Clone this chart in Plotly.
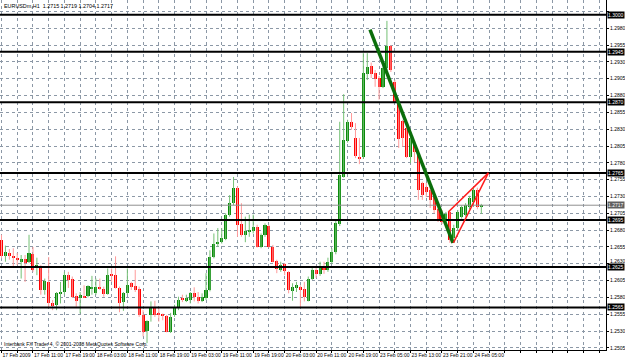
import plotly.graph_objects as go

time_labels = ["17 Feb 2009", "17 Feb 11:00", "17 Feb 19:00", "18 Feb 03:00", "18 Feb 11:00",
               "18 Feb 19:00", "19 Feb 03:00", "19 Feb 11:00", "19 Feb 19:00", "20 Feb 03:00",
               "20 Feb 11:00", "20 Feb 19:00", "23 Feb 05:00", "23 Feb 13:00", "23 Feb 21:00",
               "24 Feb 05:00"]

opens = [1.2665, 1.2642, 1.2646, 1.2642, 1.2638, 1.2633, 1.2637, 1.2632, 1.2644, 1.2624,
         1.2626, 1.2591, 1.2603, 1.2572, 1.2569, 1.2586, 1.2588, 1.2614, 1.2608, 1.2582,
         1.2579, 1.2582, 1.2582, 1.2592, 1.2586, 1.2596, 1.2592, 1.2585, 1.2614, 1.2613,
         1.2594, 1.2573, 1.2586, 1.2601, 1.2597, 1.2593, 1.2554, 1.2530, 1.2554, 1.2564,
         1.2556, 1.2555, 1.2553, 1.2529, 1.2554, 1.2564, 1.2579, 1.2574, 1.2576, 1.2587,
         1.2581, 1.2575, 1.2579, 1.2591, 1.2640, 1.2659, 1.2663, 1.2667, 1.2703, 1.2721,
         1.2743, 1.2689, 1.2672, 1.2678, 1.2679, 1.2685, 1.2655, 1.2672, 1.2686, 1.2655,
         1.2634, 1.2621, 1.2629, 1.2618, 1.2589, 1.2594, 1.2596, 1.2593, 1.2575, 1.2608,
         1.2621, 1.2615, 1.2627, 1.2621, 1.2633, 1.2647, 1.2689, 1.2759, 1.2813, 1.2841,
         1.2817, 1.2789, 1.2789, 1.2912, 1.2924, 1.2914, 1.2906, 1.2893, 1.2921, 1.2954,
         1.2900, 1.2871, 1.2842, 1.2832, 1.2789, 1.2807, 1.2792, 1.2750, 1.2744, 1.2740,
         1.2729, 1.2711, 1.2703, 1.2695, 1.2707, 1.2668, 1.2683, 1.2700, 1.2703, 1.2714,
         1.2722, 1.2740, 1.2715]
highs = [1.2673, 1.2657, 1.2652, 1.2653, 1.2646, 1.2643, 1.2643, 1.2673, 1.2655, 1.2639,
         1.2628, 1.2608, 1.2640, 1.2576, 1.2588, 1.2603, 1.2618, 1.2618, 1.2611, 1.2586,
         1.2588, 1.2598, 1.2598, 1.2612, 1.2608, 1.2608, 1.2596, 1.2623, 1.2623, 1.2641,
         1.2596, 1.2588, 1.2623, 1.2603, 1.2621, 1.2596, 1.2561, 1.2546, 1.2574, 1.2575,
         1.2564, 1.2556, 1.2554, 1.2557, 1.2569, 1.2581, 1.2584, 1.2584, 1.2588, 1.2595,
         1.2588, 1.2586, 1.2616, 1.2650, 1.2675, 1.2683, 1.2683, 1.2705, 1.2732, 1.2759,
         1.2745, 1.2720, 1.2700, 1.2703, 1.2703, 1.2688, 1.2675, 1.2690, 1.2688, 1.2658,
         1.2636, 1.2633, 1.2631, 1.2619, 1.2601, 1.2603, 1.2598, 1.2603, 1.2611, 1.2626,
         1.2627, 1.2633, 1.2633, 1.2639, 1.2653, 1.2695, 1.2841, 1.2882, 1.2844, 1.2854,
         1.2839, 1.2817, 1.2943, 1.2943, 1.2929, 1.2918, 1.2909, 1.2926, 1.2991, 1.2955,
         1.2903, 1.2872, 1.2844, 1.2833, 1.2820, 1.2810, 1.2795, 1.2752, 1.2750, 1.2747,
         1.2732, 1.2716, 1.2710, 1.2707, 1.2708, 1.2688, 1.2710, 1.2717, 1.2720, 1.2731,
         1.2743, 1.2743, 1.2719]
lows = [1.2638, 1.2633, 1.2636, 1.2626, 1.2628, 1.2608, 1.2603, 1.2631, 1.2618, 1.2613,
        1.2584, 1.2584, 1.2566, 1.2561, 1.2561, 1.2571, 1.2584, 1.2594, 1.2579, 1.2566,
        1.2556, 1.2579, 1.2580, 1.2584, 1.2584, 1.2591, 1.2581, 1.2584, 1.2603, 1.2593,
        1.2558, 1.2560, 1.2584, 1.2591, 1.2588, 1.2551, 1.2522, 1.2512, 1.2544, 1.2551,
        1.2544, 1.2546, 1.2528, 1.2527, 1.2551, 1.2561, 1.2573, 1.2573, 1.2571, 1.2574,
        1.2571, 1.2573, 1.2576, 1.2589, 1.2638, 1.2655, 1.2660, 1.2665, 1.2700, 1.2717,
        1.2670, 1.2670, 1.2662, 1.2670, 1.2675, 1.2654, 1.2653, 1.2670, 1.2654, 1.2632,
        1.2616, 1.2618, 1.2613, 1.2586, 1.2575, 1.2588, 1.2565, 1.2574, 1.2574, 1.2606,
        1.2609, 1.2612, 1.2615, 1.2618, 1.2630, 1.2644, 1.2686, 1.2758, 1.2810, 1.2829,
        1.2787, 1.2778, 1.2786, 1.2903, 1.2906, 1.2893, 1.2874, 1.2891, 1.2918, 1.2915,
        1.2869, 1.2802, 1.2804, 1.2787, 1.2780, 1.2781, 1.2725, 1.2725, 1.2729, 1.2713,
        1.2705, 1.2692, 1.2689, 1.2691, 1.2661, 1.2661, 1.2680, 1.2697, 1.2700, 1.2711,
        1.2717, 1.2711, 1.2704]
closes = [1.2642, 1.2648, 1.2642, 1.2638, 1.2635, 1.2637, 1.2631, 1.2646, 1.2621, 1.2628,
          1.2591, 1.2604, 1.2571, 1.2567, 1.2586, 1.2588, 1.2614, 1.2606, 1.2580, 1.2574,
          1.2584, 1.2580, 1.2597, 1.2596, 1.2596, 1.2592, 1.2585, 1.2614, 1.2612, 1.2594,
          1.2571, 1.2586, 1.2599, 1.2596, 1.2591, 1.2554, 1.2529, 1.2545, 1.2565, 1.2554,
          1.2554, 1.2552, 1.2529, 1.2551, 1.2564, 1.2576, 1.2577, 1.2579, 1.2586, 1.2581,
          1.2574, 1.2581, 1.2591, 1.2640, 1.2659, 1.2663, 1.2668, 1.2703, 1.2721, 1.2743,
          1.2688, 1.2672, 1.2678, 1.2680, 1.2685, 1.2655, 1.2673, 1.2688, 1.2655, 1.2633,
          1.2622, 1.2628, 1.2619, 1.2591, 1.2596, 1.2598, 1.2591, 1.2581, 1.2608, 1.2621,
          1.2615, 1.2627, 1.2621, 1.2633, 1.2647, 1.2691, 1.2762, 1.2814, 1.2841, 1.2833,
          1.2790, 1.2786, 1.2914, 1.2923, 1.2912, 1.2905, 1.2893, 1.2921, 1.2954, 1.2918,
          1.2871, 1.2816, 1.2817, 1.2789, 1.2817, 1.2796, 1.2740, 1.2732, 1.2737, 1.2725,
          1.2710, 1.2695, 1.2692, 1.2704, 1.2665, 1.2683, 1.2707, 1.2714, 1.2717, 1.2728,
          1.2740, 1.2714, 1.2717]

level_prices = [1.3000, 1.2945, 1.2870, 1.2765, 1.2695, 1.2625, 1.2565]
bid_price = 1.2717
price_ticks = [round(1.2505 + 0.0025 * k, 4) for k in range(21)]

trend_x = [93.7, 114.8]
trend_y = [1.2978, 1.2661]
wedge_x = [113.6, 123.8, 114.9]
wedge_y = [1.2707, 1.2765, 1.2661]

title_text = "EURUSDm,H1  1.2715 1.2719 1.2704 1.2717"
credit_text = "Interbank FX Trader 4, \u00a9 2001-2008 MetaQuotes Software Corp."

UP = "#0a8a0a"
DN = "#ff0000"
UP_W = "#74c074"
DN_W = "#ff9a9a"
GRID = "#8c98a6"
FONT = "Liberation Sans"

n = len(opens)
idx = list(range(n))
up = [closes[i] >= opens[i] for i in idx]

fig = go.Figure()

# wicks
for flag, col in ((True, UP_W), (False, DN_W)):
    wx, wy = [], []
    for i in idx:
        if up[i] == flag:
            wx += [i, i, None]
            wy += [lows[i], highs[i], None]
    fig.add_trace(go.Scatter(x=wx, y=wy, mode="lines", line=dict(color=col, width=1),
                             hoverinfo="skip", showlegend=False))

# bodies
base = [min(opens[i], closes[i]) for i in idx]
height = [max(abs(closes[i] - opens[i]), 0.00009) for i in idx]
fig.add_trace(go.Bar(x=idx, y=height, base=base, width=0.78,
                     marker=dict(color=[UP if u else DN for u in up], line=dict(width=0)),
                     showlegend=False, hoverinfo="skip"))

shapes = []
for p in level_prices:
    shapes.append(dict(type="line", xref="paper", x0=0, x1=1, yref="y", y0=p, y1=p,
                       line=dict(color="black", width=2), layer="above"))
shapes.append(dict(type="line", xref="paper", x0=0, x1=1, yref="y", y0=bid_price, y1=bid_price,
                   line=dict(color="#909090", width=1), layer="above"))
shapes.append(dict(type="line", xref="x", yref="y", x0=trend_x[0], y0=trend_y[0],
                   x1=trend_x[1], y1=trend_y[1], line=dict(color="#0b6e0b", width=3.5), layer="above"))
for a, b in ((0, 1), (2, 1)):
    shapes.append(dict(type="line", xref="x", yref="y", x0=wedge_x[a], y0=wedge_y[a],
                       x1=wedge_x[b], y1=wedge_y[b], line=dict(color="#ff1a1a", width=1.5), layer="above"))

# price labels: level boxes cover some of them; those nudged clear are drawn as annotations
covered = {1.3005}
nudged = {1.2630: 3}
price_text = ["" if (v in covered or v in nudged) else f"{v:.4f}" for v in price_ticks]

annotations = []
for v, dy in nudged.items():
    annotations.append(dict(xref="paper", x=1, xanchor="left", xshift=3, yref="y", y=v, yshift=dy,
                            text=f"{v:.4f}", showarrow=False, borderpad=0,
                            font=dict(color="black", size=5, family=FONT)))
for p in level_prices:
    annotations.append(dict(xref="paper", x=1, xanchor="left", xshift=1, yref="y", y=p,
                            text=f"{p:.4f}", showarrow=False, bgcolor="black", borderpad=0,
                            font=dict(color="white", size=5, family=FONT)))
annotations.append(dict(xref="paper", x=1, xanchor="left", xshift=1, yref="y", y=bid_price,
                        text=f"{bid_price:.4f}", showarrow=False, bgcolor="#606060", borderpad=0,
                        font=dict(color="white", size=5, family=FONT)))
annotations.append(dict(xref="paper", yref="paper", x=0, y=1, xanchor="left", yanchor="top",
                        xshift=2, yshift=-1, text=title_text, showarrow=False,
                        font=dict(size=5.4, color="black", family=FONT)))
annotations.append(dict(xref="paper", yref="paper", x=0, y=0, xanchor="left", yanchor="bottom",
                        xshift=2, yshift=1, text=credit_text, showarrow=False,
                        font=dict(size=5, color="black", family=FONT)))

grid_x = list(range(0, 153, 4))
grid_text = [time_labels[g // 8] if g % 8 == 0 and g // 8 < len(time_labels) else "" for g in grid_x]

fig.update_layout(
    width=625, height=360,
    margin=dict(l=0, r=19, t=0, b=10, autoexpand=False),
    paper_bgcolor="white", plot_bgcolor="white",
    bargap=0, shapes=shapes, annotations=annotations,
    xaxis=dict(range=[-0.38, 153.7], tickmode="array", tickvals=grid_x, ticktext=grid_text,
               showgrid=True, gridcolor=GRID, griddash="dot", gridwidth=1,
               showline=True, linecolor="black", linewidth=1,
               ticks="outside", ticklen=2, tickcolor="black", tickangle=0, automargin=False,
               ticklabelposition="outside right",
               tickfont=dict(size=5, color="black", family=FONT), zeroline=False, fixedrange=True),
    yaxis=dict(range=[1.25018, 1.30220], side="right", tickmode="array", tickvals=price_ticks,
               ticktext=price_text, automargin=False,
               showgrid=True, gridcolor=GRID, griddash="dot", gridwidth=1,
               showline=True, linecolor="black", linewidth=1,
               ticks="outside", ticklen=2, tickcolor="black",
               tickfont=dict(size=5, color="black", family=FONT), zeroline=False, fixedrange=True),
)

fig.write_html("out.html")
